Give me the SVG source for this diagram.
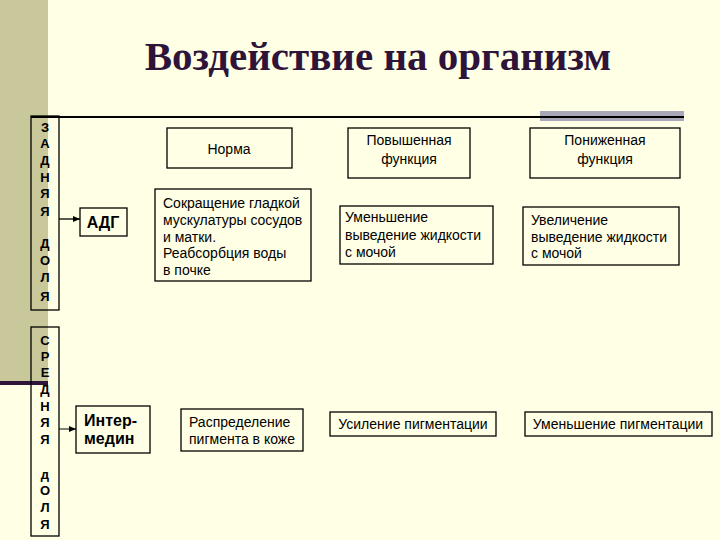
<svg xmlns="http://www.w3.org/2000/svg" width="720" height="540" viewBox="0 0 720 540">
<style>
.b{fill:none;stroke:#000;stroke-width:1.3}
.t{font-family:"Liberation Sans",Arial,sans-serif;font-size:14px;fill:#000}
.c{text-anchor:middle}
.v{font-family:"Liberation Sans",Arial,sans-serif;font-size:13px;font-weight:bold;text-anchor:middle}
.bd{font-weight:bold;font-size:16px}
</style>
<defs><marker id="a" markerWidth="8" markerHeight="8" refX="7" refY="4" orient="auto" markerUnits="userSpaceOnUse"><path d="M0,1 L7,4 L0,7z" fill="#000"/></marker></defs>
<rect width="720" height="540" fill="#ffffe6"/>
<rect x="0" y="0" width="48" height="383" fill="#c8c89a"/>
<rect x="0" y="381" width="48" height="4" fill="#2e1438"/>
<rect x="540" y="111" width="144" height="10" fill="#a8a8b8"/>
<line x1="31" y1="117" x2="684" y2="117" stroke="#000" stroke-width="2"/>
<text x="378" y="70" text-anchor="middle" font-family="Liberation Serif,serif" font-size="41" font-weight="bold" fill="#2e1438">Воздействие на организм</text>
<g id="lobe-back"><rect class="b" x="31" y="116" width="28" height="194"/>
<text class="v" x="45" y="132">З</text><text class="v" x="45" y="148">А</text><text class="v" x="45" y="165">Д</text><text class="v" x="45" y="182">Н</text><text class="v" x="45" y="198">Я</text><text class="v" x="45" y="216">Я</text><text class="v" x="45" y="248">Д</text><text class="v" x="45" y="265">О</text><text class="v" x="45" y="282">Л</text><text class="v" x="45" y="301">Я</text></g>
<g id="lobe-mid"><rect class="b" x="31" y="327" width="28" height="209"/>
<text class="v" x="45" y="345">С</text><text class="v" x="45" y="361">Р</text><text class="v" x="45" y="377">Е</text><text class="v" x="45" y="394">Д</text><text class="v" x="45" y="411">Н</text><text class="v" x="45" y="427">Я</text><text class="v" x="45" y="444">Я</text><text class="v" x="45" y="479">д</text><text class="v" x="45" y="495">О</text><text class="v" x="45" y="512">Л</text><text class="v" x="45" y="529">Я</text></g>
<g id="connectors"><line x1="59" y1="219" x2="80" y2="219" stroke="#000" stroke-width="1.3" marker-end="url(#a)"/><line x1="59" y1="429" x2="76" y2="429" stroke="#000" stroke-width="1" marker-end="url(#a)"/></g>
<g id="norma"><rect class="b" x="167" y="128" width="125" height="40"/><text class="t c" x="229" y="154">Норма</text></g>
<g id="high"><rect class="b" x="348" y="128" width="122" height="50"/><text class="t c" x="409" y="145">Повышенная</text><text class="t c" x="409" y="164">функция</text></g>
<g id="low"><rect class="b" x="530" y="128" width="150" height="50"/><text class="t c" x="605" y="145">Пониженная</text><text class="t c" x="605" y="164">функция</text></g>
<g id="adg"><rect class="b" x="80" y="208" width="47" height="28"/><text class="t c bd" x="103" y="228">АДГ</text></g>
<g id="adg-norm"><rect class="b" x="155" y="189" width="156" height="92"/><text class="t" x="163" y="208">Сокращение гладкой</text><text class="t" x="163" y="225">мускулатуры сосудов</text><text class="t" x="163" y="242">и матки.</text><text class="t" x="163" y="258">Реабсорбция воды</text><text class="t" x="163" y="275">в почке</text></g>
<g id="adg-high"><rect class="b" x="340" y="206" width="153" height="58"/><text class="t" x="345" y="222">Уменьшение</text><text class="t" x="345" y="240">выведение жидкости</text><text class="t" x="345" y="257">с мочой</text></g>
<g id="adg-low"><rect class="b" x="523" y="207" width="156" height="58"/><text class="t" x="531" y="225">Увеличение</text><text class="t" x="531" y="242">выведение жидкости</text><text class="t" x="531" y="258">с мочой</text></g>
<g id="intermedin"><rect class="b" x="76" y="406" width="74" height="47"/><text class="t bd" x="84" y="426">Интер-</text><text class="t bd" x="84" y="444">медин</text></g>
<g id="int-norm"><rect class="b" x="181" y="409" width="122" height="42"/><text class="t" x="189" y="427">Распределение</text><text class="t" x="189" y="444">пигмента в коже</text></g>
<g id="int-high"><rect class="b" x="330" y="412" width="166" height="24"/><text class="t c" x="413" y="429">Усиление пигментации</text></g>
<g id="int-low"><rect class="b" x="525" y="412" width="187" height="24"/><text class="t c" x="618" y="429">Уменьшение пигментации</text></g>
</svg>
